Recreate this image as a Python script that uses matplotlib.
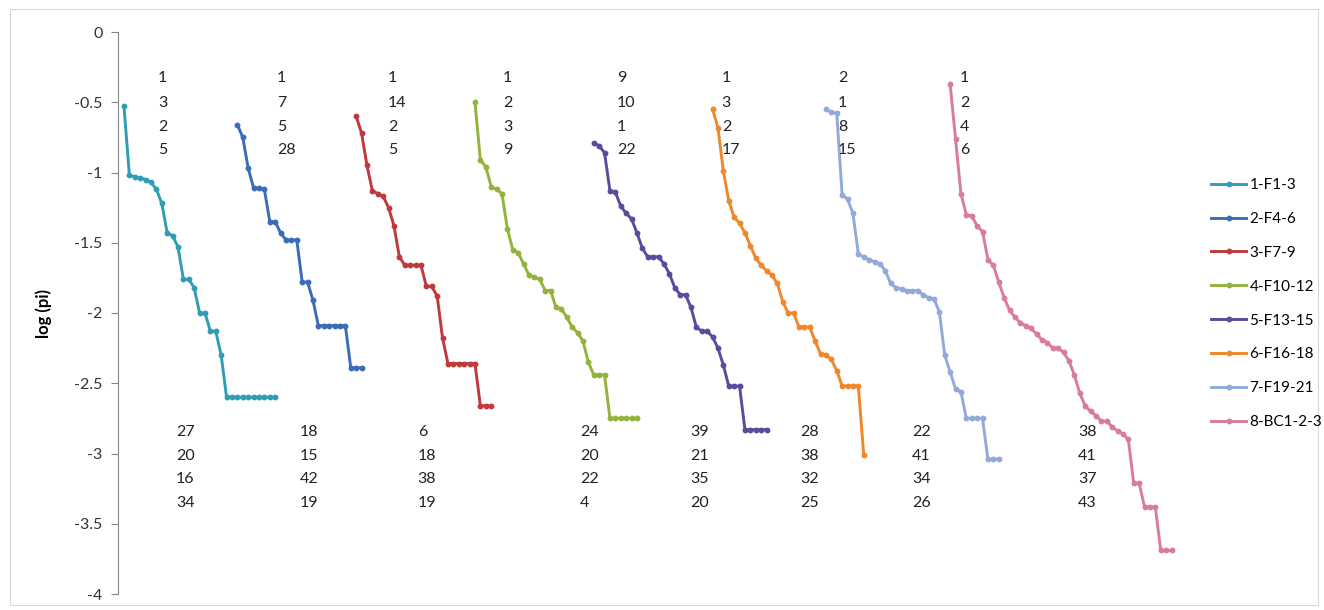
import matplotlib
matplotlib.use("Agg")
import matplotlib.pyplot as plt
from matplotlib.patches import Rectangle

plt.rcParams['font.family'] = ['Lato', 'DejaVu Sans']
plt.rcParams['axes.unicode_minus'] = False

# --- data -------------------------------------------------------------------
names = ['1-F1-3', '2-F4-6', '3-F7-9', '4-F10-12', '5-F13-15', '6-F16-18', '7-F19-21', '8-BC1-2-3']

# first category of each series (empty categories before it)
starts = [0, 21, 43, 65, 87, 109, 130, 153]

s1 = [-0.53, -1.02, -1.03, -1.04, -1.05, -1.07, -1.12, -1.22, -1.43, -1.45, -1.53, -1.76, -1.76,
      -1.82, -2.00, -2.00, -2.13, -2.13, -2.30, -2.60, -2.60, -2.60, -2.60, -2.60, -2.60, -2.60,
      -2.60, -2.60, -2.60]
s2 = [-0.66, -0.75, -0.97, -1.11, -1.11, -1.12, -1.35, -1.35, -1.43, -1.48, -1.48, -1.48, -1.78,
      -1.78, -1.91, -2.09, -2.09, -2.09, -2.09, -2.09, -2.09, -2.39, -2.39, -2.39]
s3 = [-0.60, -0.72, -0.95, -1.13, -1.15, -1.17, -1.25, -1.38, -1.60, -1.66, -1.66, -1.66, -1.66,
      -1.81, -1.81, -1.88, -2.18, -2.36, -2.36, -2.36, -2.36, -2.36, -2.36, -2.66, -2.66, -2.66]
s4 = [-0.50, -0.91, -0.96, -1.10, -1.12, -1.15, -1.40, -1.55, -1.57, -1.65, -1.73, -1.745, -1.76,
      -1.84, -1.84, -1.96, -1.97, -2.03, -2.10, -2.14, -2.20, -2.35, -2.44, -2.44, -2.44, -2.75,
      -2.75, -2.75, -2.75, -2.75, -2.75]
s5 = [-0.79, -0.81, -0.86, -1.13, -1.14, -1.24, -1.29, -1.33, -1.43, -1.54, -1.60, -1.60, -1.60,
      -1.65, -1.72, -1.82, -1.87, -1.87, -1.96, -2.10, -2.13, -2.13, -2.17, -2.25, -2.37, -2.52,
      -2.52, -2.52, -2.83, -2.83, -2.83, -2.83, -2.83]
s6 = [-0.55, -0.68, -0.99, -1.20, -1.32, -1.36, -1.43, -1.52, -1.61, -1.66, -1.70, -1.73, -1.79,
      -1.92, -2.00, -2.00, -2.10, -2.10, -2.10, -2.20, -2.29, -2.30, -2.33, -2.41, -2.52, -2.52,
      -2.52, -2.52, -3.01]
s7 = [-0.55, -0.57, -0.58, -1.16, -1.19, -1.29, -1.58, -1.60, -1.62, -1.635, -1.65, -1.70, -1.79,
      -1.82, -1.83, -1.84, -1.84, -1.84, -1.87, -1.89, -1.90, -1.99, -2.30, -2.42, -2.54, -2.56,
      -2.75, -2.75, -2.75, -2.75, -3.04, -3.04, -3.04]
s8 = [-0.37, -0.76, -1.15, -1.30, -1.31, -1.38, -1.42, -1.62, -1.66, -1.78, -1.89, -1.98, -2.03,
      -2.07, -2.09, -2.11, -2.15, -2.19, -2.21, -2.25, -2.25, -2.28, -2.34, -2.44, -2.57, -2.66,
      -2.70, -2.73, -2.77, -2.77, -2.81, -2.84, -2.86, -2.90, -3.21, -3.21, -3.38, -3.38, -3.38,
      -3.69, -3.69, -3.69]
series = [s1, s2, s3, s4, s5, s6, s7, s8]

top_labels = [['1', '3', '2', '5'], ['1', '7', '5', '28'], ['1', '14', '2', '5'], ['1', '2', '3', '9'],
              ['9', '10', '1', '22'], ['1', '3', '2', '17'], ['2', '1', '8', '15'], ['1', '2', '4', '6']]
bottom_labels = [['27', '20', '16', '34'], ['18', '15', '42', '19'], ['6', '18', '38', '19'],
                 ['24', '20', '22', '4'], ['39', '21', '35', '20'], ['28', '38', '32', '25'],
                 ['22', '41', '34', '26'], ['38', '41', '37', '43']]

colors = ['#2F9DB4', '#3A6CB8', '#C0393B', '#93B33C', '#5A4C9C', '#F0872A', '#93A9DA', '#D97C98']

# label columns (category positions) and rows (values)
top_x = [6.3, 28.3, 48.9, 70.2, 91.3, 110.7, 132.2, 154.8]
bottom_x = [9.6, 32.6, 54.4, 84.4, 104.8, 125.2, 145.9, 176.7]
top_y = [-0.327, -0.505, -0.676, -0.84]
bottom_y = [-2.847, -3.018, -3.18, -3.35]

# --- figure -----------------------------------------------------------------
W, H = 1324, 610
fig = plt.figure(figsize=(W / 100, H / 100), dpi=100)
fig.patches.append(Rectangle((10 / W, 5 / H), 1308 / W, 596 / H, transform=fig.transFigure,
                             fill=False, edgecolor='#D9D9D9', linewidth=0.8))

ax = fig.add_axes([118 / W, 16 / H, (1185 - 118) / W, (594 - 32) / H])

for name, st, vals, c in zip(names, starts, series, colors):
    xs = list(range(st, st + len(vals)))
    ax.plot(xs, vals, '-o', color=c, lw=2.1, ms=3.2, label=name)

for col, x in zip(top_labels, top_x):
    for t, y in zip(col, top_y):
        ax.text(x, y, t, fontsize=11.5, color='#222222', ha='left', va='center')
for col, x in zip(bottom_labels, bottom_x):
    for t, y in zip(col, bottom_y):
        ax.text(x, y, t, fontsize=11.5, color='#222222', ha='left', va='center')

ax.set_xlim(-1.11, 196.5)
ax.set_ylim(-4, 0)
ax.set_yticks([0, -0.5, -1, -1.5, -2, -2.5, -3, -3.5, -4])
ax.set_yticklabels(['0', '-0.5', '-1', '-1.5', '-2', '-2.5', '-3', '-3.5', '-4'])
ax.set_xticks([])
for sp in ['top', 'right', 'bottom']:
    ax.spines[sp].set_visible(False)
ax.spines['left'].set_color('#868686')
ax.tick_params(axis='y', direction='out', length=5, color='#868686', labelsize=11.5,
               labelcolor='#333333', pad=6)
ax.set_ylabel('log (pi)', fontsize=12, fontweight='bold')
ax.yaxis.set_label_coords(-66 / (1185 - 118), 0.5)

fig.legend(loc='upper left', bbox_to_anchor=(1205 / W, 1 - 172 / H), frameon=False,
           fontsize=11, labelspacing=1.3, handlelength=2.3, handletextpad=0.2,
           borderaxespad=0)

fig.savefig('out.png', dpi=100)
